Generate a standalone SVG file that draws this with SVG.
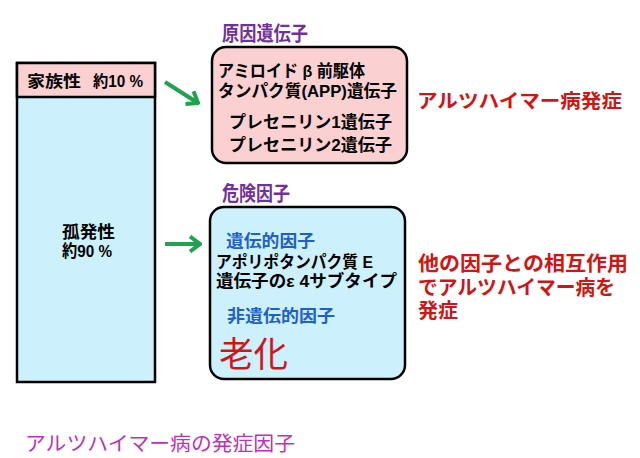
<svg xmlns="http://www.w3.org/2000/svg" width="640" height="458" viewBox="0 0 640 458">
<style>
text{font-family:"Liberation Sans","Noto Sans CJK JP",sans-serif;}
.b{font-weight:bold;}
.k{fill:#000;}
.red{fill:#d01515;font-weight:bold;}
.pur{fill:#7030a0;font-weight:bold;}
.blu{fill:#1f5fcc;font-weight:bold;}
.box{stroke:#000;stroke-width:2.5;}
.arr{stroke:#1fa34f;stroke-width:4;fill:none;}
</style>
<defs>
<marker id="ah" markerUnits="userSpaceOnUse" viewBox="0 0 14 18" refX="12" refY="9" markerWidth="14" markerHeight="18" orient="auto">
<path d="M2,1.5 L12,9 L2,16.5" fill="none" stroke="#1fa34f" stroke-width="4"/>
</marker>
</defs>
<rect width="640" height="458" fill="#fff"/>

<g id="left-box">
<rect class="box" x="17" y="63" width="138" height="319" fill="#ccf1fd"/>
<rect class="box" x="17" y="63" width="138" height="34" fill="#fbd0d0"/>
<text class="b k" x="27" y="87" font-size="16" textLength="54" lengthAdjust="spacingAndGlyphs">家族性</text>
<text class="b k" x="93" y="87" font-size="16" textLength="50" lengthAdjust="spacingAndGlyphs">約10 %</text>
<text class="b k" x="62" y="238" font-size="17" textLength="53" lengthAdjust="spacingAndGlyphs">孤発性</text>
<text class="b k" x="62" y="257" font-size="17" textLength="50" lengthAdjust="spacingAndGlyphs">約90 %</text>
</g>

<g id="cause-genes">
<text class="pur" x="222" y="41" font-size="20" textLength="86" lengthAdjust="spacingAndGlyphs">原因遺伝子</text>
<rect class="box" x="212" y="47" width="195" height="116" rx="14" fill="#fbd0d0"/>
<text class="b k" x="218" y="77" font-size="17" textLength="147" lengthAdjust="spacingAndGlyphs">アミロイド β 前駆体</text>
<text class="b k" x="218" y="97" font-size="17" textLength="179" lengthAdjust="spacingAndGlyphs">タンパク質(APP)遺伝子</text>
<text class="b k" x="229" y="128" font-size="17" textLength="163" lengthAdjust="spacingAndGlyphs">プレセニリン1遺伝子</text>
<text class="b k" x="229" y="151" font-size="17" textLength="163" lengthAdjust="spacingAndGlyphs">プレセニリン2遺伝子</text>
</g>

<g id="onset">
<text class="red" x="417" y="108" font-size="19" textLength="205" lengthAdjust="spacingAndGlyphs">アルツハイマー病発症</text>
</g>

<g id="risk-factors">
<text class="pur" x="222" y="201" font-size="20" textLength="68" lengthAdjust="spacingAndGlyphs">危険因子</text>
<rect class="box" x="210" y="207" width="195" height="172" rx="14" fill="#ccf1fd"/>
<text class="blu" x="226" y="247" font-size="17" textLength="89" lengthAdjust="spacingAndGlyphs">遺伝的因子</text>
<text class="b k" x="216" y="268" font-size="17" textLength="157" lengthAdjust="spacingAndGlyphs">アポリポタンパク質 E</text>
<text class="b k" x="216" y="287" font-size="17" textLength="181" lengthAdjust="spacingAndGlyphs">遺伝子のε 4サブタイプ</text>
<text class="blu" x="227" y="322" font-size="17" textLength="108" lengthAdjust="spacingAndGlyphs">非遺伝的因子</text>
<text x="219" y="367" font-size="35" fill="#d01515" textLength="69" lengthAdjust="spacingAndGlyphs">老化</text>
</g>

<g id="interaction">
<text class="red" x="418" y="271" font-size="20" textLength="210" lengthAdjust="spacingAndGlyphs">他の因子との相互作用</text>
<text class="red" x="418" y="295" font-size="20" textLength="197" lengthAdjust="spacingAndGlyphs">でアルツハイマー病を</text>
<text class="red" x="418" y="318" font-size="20" textLength="40" lengthAdjust="spacingAndGlyphs">発症</text>
</g>

<g id="caption">
<text x="25" y="451" font-size="20" fill="#c030c0" textLength="270" lengthAdjust="spacingAndGlyphs">アルツハイマー病の発症因子</text>
</g>

<g id="connectors">
<line class="arr" x1="165" y1="82" x2="198" y2="103" marker-end="url(#ah)"/>
<line class="arr" x1="165" y1="244" x2="200" y2="244" marker-end="url(#ah)"/>
</g>
</svg>
